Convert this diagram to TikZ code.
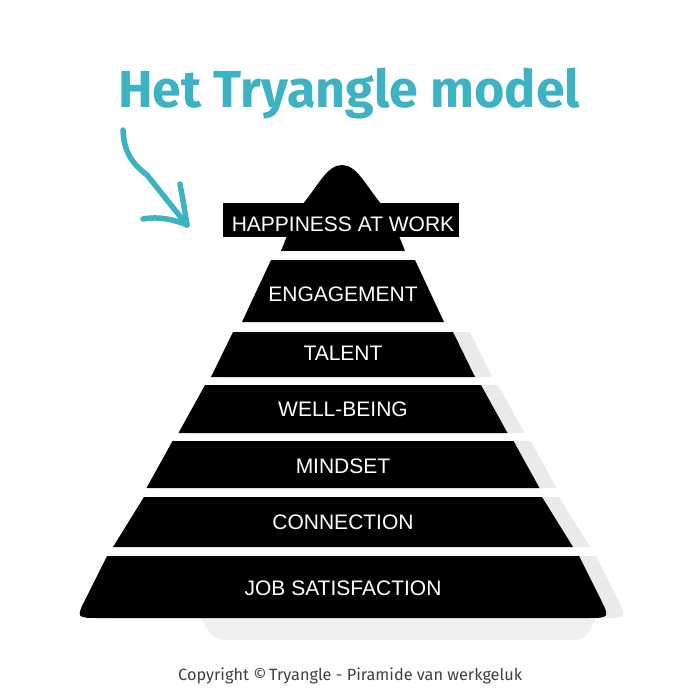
\documentclass[tikz,border=0pt]{standalone}
\usepackage{fontspec}
\setmainfont{Liberation Sans}
\newfontfamily\firafont{Fira Sans}
\definecolor{teal1}{HTML}{3CB2C3}
\definecolor{shadowgray}{HTML}{EAEAEA}
\definecolor{copygray}{HTML}{404040}
\newcommand\trap[5][black]{\fill[#1] ({343-#3},#2) -- ({343+#3},#2) -- ({343+#5},#4) -- ({343-#5},#4) -- cycle;}
\begin{document}
\begin{tikzpicture}[x=1pt,y=-1pt,
  lab/.style={text=white,font=\fontsize{21}{21}\selectfont,inner sep=0pt,anchor=center},
  arrowstroke/.style={draw=teal1,line width=5.5pt,line cap=round,line join=round}]
\useasboundingbox (0,0) rectangle (700,700);
\fill[white] (0,0) rectangle (700,700);
% title
\node[inner sep=0pt,anchor=base west,text=teal1] (title) at (118,108)
  {\resizebox{462pt}{!}{\firafont\bfseries\fontsize{51}{51}\selectfont Het Tryangle model}};
% hand-drawn arrow
\coordinate (astart) at (123,130);
\coordinate (atip) at (187,225);
\coordinate (awing1) at (180,184);
\coordinate (awing2) at (143,219);
\draw[arrowstroke] (astart) .. controls (124,150) and (130,162) .. (147,175) -- (atip);
\draw[arrowstroke] (awing1) .. controls (183,200) and (185,212) .. (atip);
\draw[arrowstroke] (awing2) .. controls (160,216) and (175,220) .. (atip);
% shadows
\begin{scope}[xshift=17pt]
\trap[shadowgray]{332}{110}{377}{132}
\trap[shadowgray]{385}{138}{433}{164.5}
\trap[shadowgray]{441}{170.5}{488}{196.5}
\trap[shadowgray]{497}{199}{547}{230}
\fill[shadowgray] (107,556) -- (86,598) .. controls (76,618) .. (100,618) -- (586,618) .. controls (610,618) .. (600,598) -- (579,556) -- cycle;
\end{scope}
\fill[shadowgray!70!white, rounded corners=10pt] (195,610) -- (600,610) -- (585,640) -- (215,640) -- cycle;
% top piece
\fill (302,205) .. controls (318,186) and (327,165) .. (342,165) .. controls (357,165) and (366,186) .. (382,205) -- cycle;
\fill (223,203) rectangle (459,237);
\trap{236}{56}{251}{62}
% layers
\trap{260}{72}{322}{101}
\trap{332}{110}{377}{132}
\trap{385}{138}{433}{164.5}
\trap{441}{170.5}{488}{196.5}
\trap{497}{199}{547}{230}
\fill (107,556) -- (86,598) .. controls (76,618) .. (100,618) -- (586,618) .. controls (610,618) .. (600,598) -- (579,556) -- cycle;
% labels
\node[lab] (happiness) at (343,224) {HAPPINESS AT WORK};
\node[lab] (engagement) at (343,294) {ENGAGEMENT};
\node[lab] (talent) at (343,353) {TALENT};
\node[lab] (wellbeing) at (343,409) {WELL-BEING};
\node[lab] (mindset) at (343,466) {MINDSET};
\node[lab] (connection) at (343,522) {CONNECTION};
\node[lab] (jobsat) at (343,588) {JOB SATISFACTION};
% copyright
\node[inner sep=0pt,anchor=base west,text=copygray] (copyright) at (178,680)
  {\resizebox{344pt}{!}{\firafont\fontsize{17}{17}\selectfont Copyright ©\,Tryangle - Piramide van werkgeluk}};
\end{tikzpicture}
\end{document}
